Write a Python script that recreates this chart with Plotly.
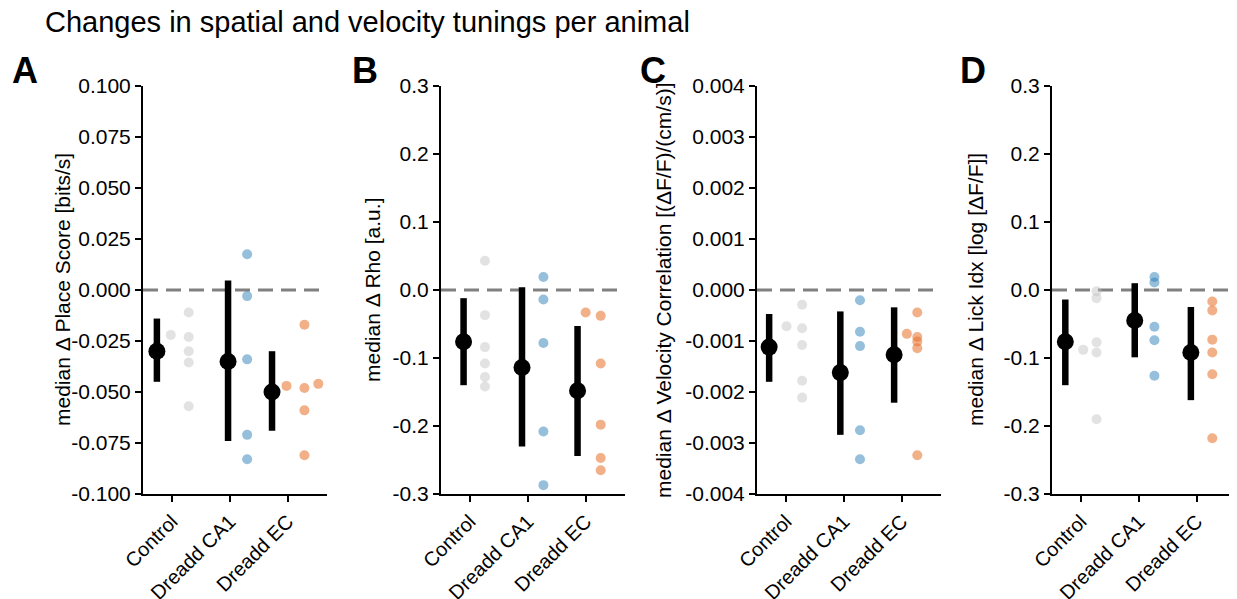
import plotly.graph_objects as go

categories = ["Control", "Dreadd CA1", "Dreadd EC"]

# ---- Panel A: Place score ----
A_median = [-0.030, -0.035, -0.050]
A_lo = [-0.045, -0.074, -0.069]
A_hi = [-0.014, 0.0046, -0.030]
A_med_jit = [-0.26, -0.03, -0.27]
A_ctrl = [-0.022, -0.011, -0.023, -0.030, -0.0355, -0.057]
A_ctrl_jit = [-0.02, 0.29, 0.29, 0.29, 0.29, 0.29]
A_ca1 = [0.0175, -0.003, -0.034, -0.071, -0.083]
A_ca1_jit = [0.30, 0.30, 0.30, 0.30, 0.30]
A_ec = [-0.047, -0.017, -0.048, -0.059, -0.081, -0.046]
A_ec_jit = [-0.02, 0.29, 0.29, 0.29, 0.29, 0.53]

# ---- Panel B: Rho ----
B_median = [-0.076, -0.114, -0.148]
B_lo = [-0.140, -0.230, -0.244]
B_hi = [-0.012, 0.004, -0.053]
B_med_jit = [-0.11, -0.10, -0.14]
B_ctrl = [0.043, -0.037, -0.084, -0.108, -0.128, -0.142]
B_ctrl_jit = [0.26, 0.26, 0.26, 0.26, 0.26, 0.26]
B_ca1 = [0.019, -0.014, -0.078, -0.208, -0.287]
B_ca1_jit = [0.27, 0.27, 0.27, 0.27, 0.27]
B_ec = [-0.033, -0.038, -0.108, -0.198, -0.247, -0.265]
B_ec_jit = [0.0, 0.26, 0.26, 0.26, 0.26, 0.26]

# ---- Panel C: Velocity correlation ----
C_median = [-0.00112, -0.00162, -0.00127]
C_lo = [-0.00180, -0.00284, -0.00221]
C_hi = [-0.00047, -0.00042, -0.00034]
C_med_jit = [-0.29, -0.06, -0.13]
C_ctrl = [-0.00071, -0.00029, -0.00075, -0.00108, -0.00178, -0.00211]
C_ctrl_jit = [0.01, 0.28, 0.28, 0.28, 0.28, 0.28]
C_ca1 = [-0.00020, -0.00082, -0.00110, -0.00275, -0.00332]
C_ca1_jit = [0.28, 0.28, 0.28, 0.28, 0.28]
C_ec = [-0.00086, -0.00044, -0.00092, -0.00101, -0.00114, -0.00324]
C_ec_jit = [0.09, 0.27, 0.27, 0.27, 0.27, 0.27]

# ---- Panel D: Lick index ----
D_median = [-0.076, -0.045, -0.092]
D_lo = [-0.140, -0.099, -0.162]
D_hi = [-0.014, 0.010, -0.025]
D_med_jit = [-0.27, -0.07, -0.10]
D_ctrl = [-0.088, -0.002, -0.012, -0.077, -0.092, -0.190]
D_ctrl_jit = [0.04, 0.27, 0.27, 0.27, 0.27, 0.27]
D_ca1 = [0.019, 0.011, -0.054, -0.074, -0.126]
D_ca1_jit = [0.27, 0.27, 0.27, 0.27, 0.27]
D_ec = [-0.017, -0.030, -0.073, -0.092, -0.124, -0.218]
D_ec_jit = [0.27, 0.27, 0.27, 0.27, 0.27, 0.27]

# tick labels
A_ticks = [-0.1, -0.075, -0.05, -0.025, 0.0, 0.025, 0.05, 0.075, 0.1]
A_ticktext = ["-0.100", "-0.075", "-0.050", "-0.025", "0.000", "0.025", "0.050", "0.075", "0.100"]
B_ticks = [-0.3, -0.2, -0.1, 0.0, 0.1, 0.2, 0.3]
B_ticktext = ["-0.3", "-0.2", "-0.1", "0.0", "0.1", "0.2", "0.3"]
C_ticks = [-0.004, -0.003, -0.002, -0.001, 0.0, 0.001, 0.002, 0.003, 0.004]
C_ticktext = ["-0.004", "-0.003", "-0.002", "-0.001", "0.000", "0.001", "0.002", "0.003", "0.004"]
D_ticks = B_ticks
D_ticktext = B_ticktext

ylabels = [
    "median \u0394 Place Score [bits/s]",
    "median \u0394 Rho [a.u.]",
    "median \u0394 Velocity Correlation [(\u0394F/F)/(cm/s)]",
    "median \u0394 Lick Idx [log [\u0394F/F]]",
]
letters = ["A", "B", "C", "D"]
title = "Changes in spatial and velocity tunings per animal"

panels = [
    dict(med=A_median, lo=A_lo, hi=A_hi, mj=A_med_jit,
         pts=[(A_ctrl, A_ctrl_jit), (A_ca1, A_ca1_jit), (A_ec, A_ec_jit)],
         rng=[-0.1, 0.1], tv=A_ticks, tt=A_ticktext),
    dict(med=B_median, lo=B_lo, hi=B_hi, mj=B_med_jit,
         pts=[(B_ctrl, B_ctrl_jit), (B_ca1, B_ca1_jit), (B_ec, B_ec_jit)],
         rng=[-0.3, 0.3], tv=B_ticks, tt=B_ticktext),
    dict(med=C_median, lo=C_lo, hi=C_hi, mj=C_med_jit,
         pts=[(C_ctrl, C_ctrl_jit), (C_ca1, C_ca1_jit), (C_ec, C_ec_jit)],
         rng=[-0.004, 0.004], tv=C_ticks, tt=C_ticktext),
    dict(med=D_median, lo=D_lo, hi=D_hi, mj=D_med_jit,
         pts=[(D_ctrl, D_ctrl_jit), (D_ca1, D_ca1_jit), (D_ec, D_ec_jit)],
         rng=[-0.3, 0.3], tv=D_ticks, tt=D_ticktext),
]

group_colors = ["rgba(190,190,190,0.45)", "rgba(31,119,180,0.47)", "rgba(232,112,40,0.55)"]

W, H = 1237, 599
OFF = 8  # page body margin


def px_x(x):
    return (x - OFF) / W


def px_y(y):
    return 1 - (y - OFF) / H


x_px = [(143, 327), (441, 625), (757, 941), (1052, 1236)]
y_dom = [px_y(494), px_y(86)]
ylab_x = [62, 372, 663, 975]
letter_x = [10, 350, 638, 958]

FONT = "Liberation Sans, Arial, sans-serif"

fig = go.Figure()
layout = dict(width=W, height=H, margin=dict(l=0, r=0, t=0, b=0),
              paper_bgcolor="white", plot_bgcolor="white", showlegend=False,
              font=dict(family=FONT, color="black", size=21))
annotations = []
shapes = []

for i, p in enumerate(panels):
    n = "" if i == 0 else str(i + 1)
    xa, ya = "x" + n, "y" + n
    for g, (vals, jit) in enumerate(p["pts"]):
        fig.add_trace(go.Scatter(
            x=[g + j for j in jit], y=vals, mode="markers",
            marker=dict(size=10, color=group_colors[g], line=dict(width=0)),
            xaxis=xa, yaxis=ya, hoverinfo="skip"))
    fig.add_trace(go.Scatter(
        x=[g + j for g, j in enumerate(p["mj"])], y=p["med"], mode="markers",
        marker=dict(size=17, color="black"),
        error_y=dict(type="data", symmetric=False,
                     array=[h - m for h, m in zip(p["hi"], p["med"])],
                     arrayminus=[m - l for m, l in zip(p["med"], p["lo"])],
                     thickness=6.5, width=0, color="black"),
        xaxis=xa, yaxis=ya, hoverinfo="skip"))

    x0, x1 = x_px[i]
    layout["xaxis" + n] = dict(
        domain=[px_x(x0), px_x(x1)], range=[-0.5, 2.68], anchor=ya,
        tickvals=[0, 1, 2], ticktext=categories, tickangle=-45,
        showline=True, linecolor="black", linewidth=2, ticks="outside",
        ticklen=6, tickwidth=2, tickcolor="black", showgrid=False,
        zeroline=False, automargin=False, tickfont=dict(size=20))
    layout["yaxis" + n] = dict(
        domain=y_dom, range=p["rng"], anchor=xa,
        tickvals=p["tv"], ticktext=p["tt"],
        showline=True, linecolor="black", linewidth=2, ticks="outside",
        ticklen=6, tickwidth=2, tickcolor="black", showgrid=False,
        zeroline=False, automargin=False, tickfont=dict(size=21))
    shapes.append(dict(type="line", xref=xa + " domain", yref=ya,
                       x0=0, x1=1, y0=0, y1=0, layer="below",
                       line=dict(color="#808080", width=3, dash="15px,8px")))
    annotations.append(dict(text=ylabels[i], xref="paper", yref="paper",
                            x=px_x(ylab_x[i]), y=(y_dom[0] + y_dom[1]) / 2,
                            textangle=-90, showarrow=False,
                            xanchor="center", yanchor="middle",
                            font=dict(size=21)))
    annotations.append(dict(text="<b>" + letters[i] + "</b>", xref="paper", yref="paper",
                            x=px_x(letter_x[i]), y=px_y(70), showarrow=False,
                            xanchor="left", yanchor="middle",
                            font=dict(size=36)))

annotations.append(dict(text=title, xref="paper", yref="paper",
                        x=px_x(43), y=px_y(22), showarrow=False,
                        xanchor="left", yanchor="middle", font=dict(size=29)))

layout["annotations"] = annotations
layout["shapes"] = shapes
fig.update_layout(**layout)
fig.write_html("out.html")
